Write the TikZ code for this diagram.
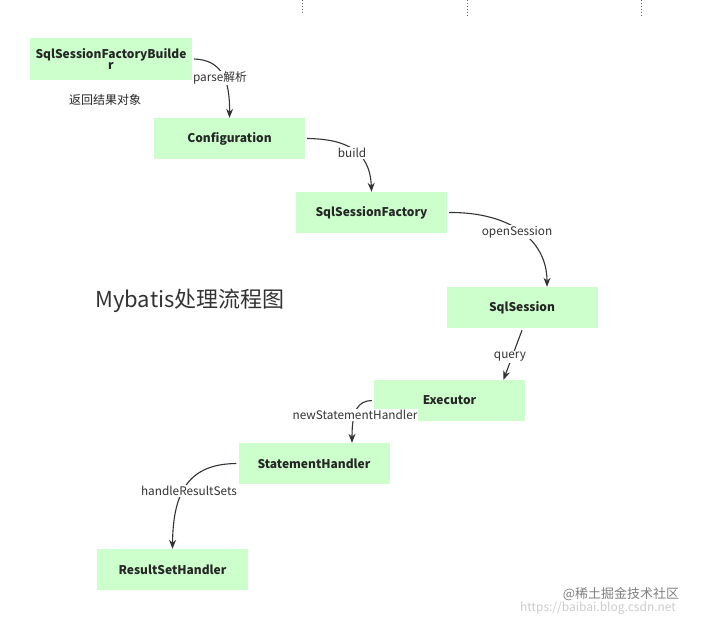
\documentclass[tikz,border=0pt]{standalone}
\usepackage{fontspec}
\setmainfont{Noto Sans CJK SC}
\usetikzlibrary{arrows.meta}
\begin{document}
\begin{tikzpicture}[x=1pt,y=-1pt,
  box/.style={fill=boxgreen,draw=none,minimum width=151pt,minimum height=41pt,inner sep=0pt,font=\fontsize{12}{12.5}\selectfont\bfseries,text=black!85},
  conn/.style={draw=black!80,line width=1.1pt,-{Stealth[length=9pt,width=7pt]}},
  lbl/.style={fill=white,inner sep=1pt,font=\fontsize{11.8}{13}\selectfont,text=black!80},
  dots/.style={draw=black!60,line width=1pt,dotted}]
\definecolor{boxgreen}{HTML}{CCFFCC}
\useasboundingbox (0,0) rectangle (703,623);
\fill[white] (0,0) rectangle (703,623);
% dotted lines at top
\coordinate (d1a) at (302,0); \coordinate (d1b) at (302,14);
\coordinate (d2a) at (467,0); \coordinate (d2b) at (467,16);
\coordinate (d3a) at (641,0); \coordinate (d3b) at (641,16);
\draw[dots] (d1a) -- (d1b);
\draw[dots] (d2a) -- (d2b);
\draw[dots] (d3a) -- (d3b);
% nodes
\node[box,minimum width=162pt,minimum height=42pt,align=center] (b) at (111,59) {SqlSessionFactoryBuilde\\[-2pt]r};
\node[box] (c) at (229.5,138.5) {Configuration};
\node[box] (f) at (371.5,212.5) {SqlSessionFactory};
\node[box] (s) at (522,307.5) {SqlSession};
\node[box] (e) at (449.5,400.5) {Executor};
\node[box] (h) at (314,463.5) {StatementHandler};
\node[box] (r) at (172.5,569.5) {ResultSetHandler};
\node[font=\fontsize{12}{13}\selectfont,text=black!85] (ret) at (105,100) {返回结果对象};
\node[font=\fontsize{22}{25}\selectfont,text=black!80] (title) at (190,301) {Mybatis处理流程图};
% connectors
\draw[conn] (b.east) ++(2,0) .. controls (222,60) and (230,80) .. (c.north);
\node[lbl] (l1) at (220,78) {parse解析};
\draw[conn] (c.east) ++(2,0) .. controls (345,139) and (370,150) .. (f.north);
\node[lbl] (l2) at (352,153) {build};
\draw[conn] (f.east) ++(2,0) .. controls (510,212) and (547,240) .. ([xshift=25pt]s.north);
\node[lbl] (l3) at (517,232) {openSession};
\draw[conn] ([yshift=-2pt]s.south) -- ([xshift=54pt]e.north);
\node[lbl] (l4) at (510,357) {query};
\draw[conn] ([xshift=-2pt]e.west) .. controls (358,401) and (352,410) .. ([xshift=38pt]h.north);
\node[lbl] (l5) at (355,415) {newStatementHandler};
\draw[conn] ([xshift=-2pt]h.west) .. controls (190,464) and (173,490) .. (r.north);
\node[lbl] (l6) at (189,491) {handleResultSets};
% watermark
\node[text=black!20,font=\fontsize{12}{14}\selectfont] (w2) at (598,608) {https://baibai.blog.csdn.net};
\node[text=black!50,font=\fontsize{13}{15}\selectfont] (w1) at (621,594) {@稀土掘金技术社区};
\end{tikzpicture}
\end{document}
